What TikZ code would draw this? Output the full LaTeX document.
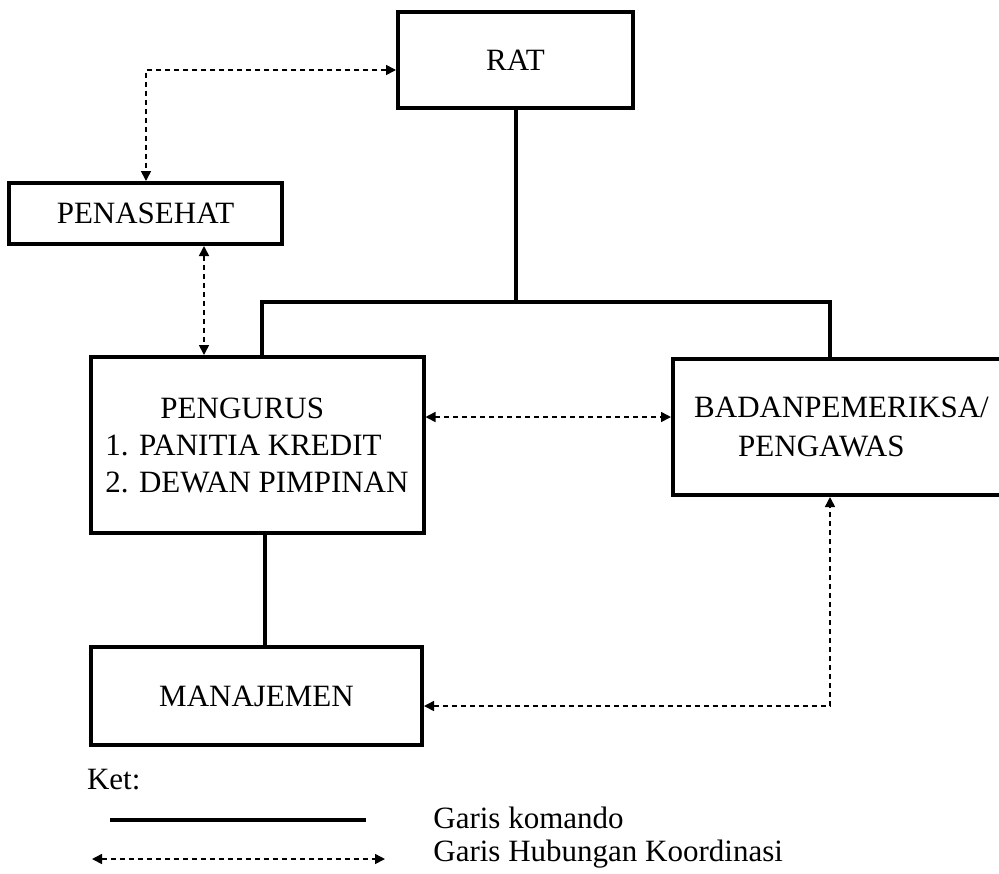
\documentclass[tikz,border=0pt]{standalone}
\usepackage{fontspec}
\setmainfont{Liberation Serif}
\usetikzlibrary{arrows.meta}

\begin{document}
\begin{tikzpicture}[x=0.5pt,y=-0.5pt,
  font=\fontsize{15.5}{18.5}\selectfont,
  unit/.style={draw,line width=2pt,inner sep=0pt},
  cmd/.style={line width=1.8pt},
  koord/.style={line width=0.8pt,dash pattern=on 2.5pt off 2pt,
    {Triangle[length=5pt,width=5pt]}-{Triangle[length=5pt,width=5pt]}}]
\clip (0,0) rectangle (999,873);
% units
\node[unit,minimum width=117.5pt,minimum height=48pt] (rat) at (515.5,60) {RAT};
\node[unit,minimum width=136.5pt,minimum height=30.5pt] (penasehat) at (145.5,213.5) {PENASEHAT};
\node[unit,minimum width=166.5pt,minimum height=88pt,align=left] (pengurus) at (257,445)
  {\hspace*{27.5pt}PENGURUS\\1. PANITIA KREDIT\\2. DEWAN PIMPINAN};
\node[unit,minimum width=168.5pt,minimum height=68pt,align=left,font=\fontsize{15.5}{19.5}\selectfont] (badan) at (841.5,427)
  {BADANPEMERIKSA/\\\hspace*{22pt}PENGAWAS};
\node[unit,minimum width=165.5pt,minimum height=49pt] (manajemen) at (256.5,696)
  {\raisebox{-5.5pt}{MANAJEMEN}};
% garis komando
\coordinate (bar) at (516,302);
\draw[cmd] (rat.south -| bar) -- (bar);
\draw[cmd] (pengurus.north -| 262,0) |- (bar) -| (badan.north -| 830,0);
\draw[cmd] (pengurus.south -| 265,0) -- (manajemen.north -| 265,0);
% garis koordinasi
\draw[koord] (rat.west |- 0,70) -| (penasehat.north -| 146,0);
\draw[koord] (penasehat.south -| 204,0) -- (pengurus.north -| 204,0);
\draw[koord] (pengurus.east |- 0,417) -- (badan.west |- 0,417);
\draw[koord] (manajemen.east |- 0,706) -| (badan.south -| 830,0);
% keterangan
\node[anchor=west] (ket) at (80,780) {Ket:};
\coordinate (ka) at (110,820);
\coordinate (kb) at (366,820);
\coordinate (ha) at (92,859);
\coordinate (hb) at (385,859);
\draw[line width=2pt] (ka) -- (kb);
\draw[koord] (ha) -- (hb);
\node[anchor=west,inner sep=0pt] (komando) at (433,818) {Garis komando};
\node[anchor=west,inner sep=0pt] (hubungan) at (433,854) {Garis Hubungan Koordinasi};
\end{tikzpicture}
\end{document}
